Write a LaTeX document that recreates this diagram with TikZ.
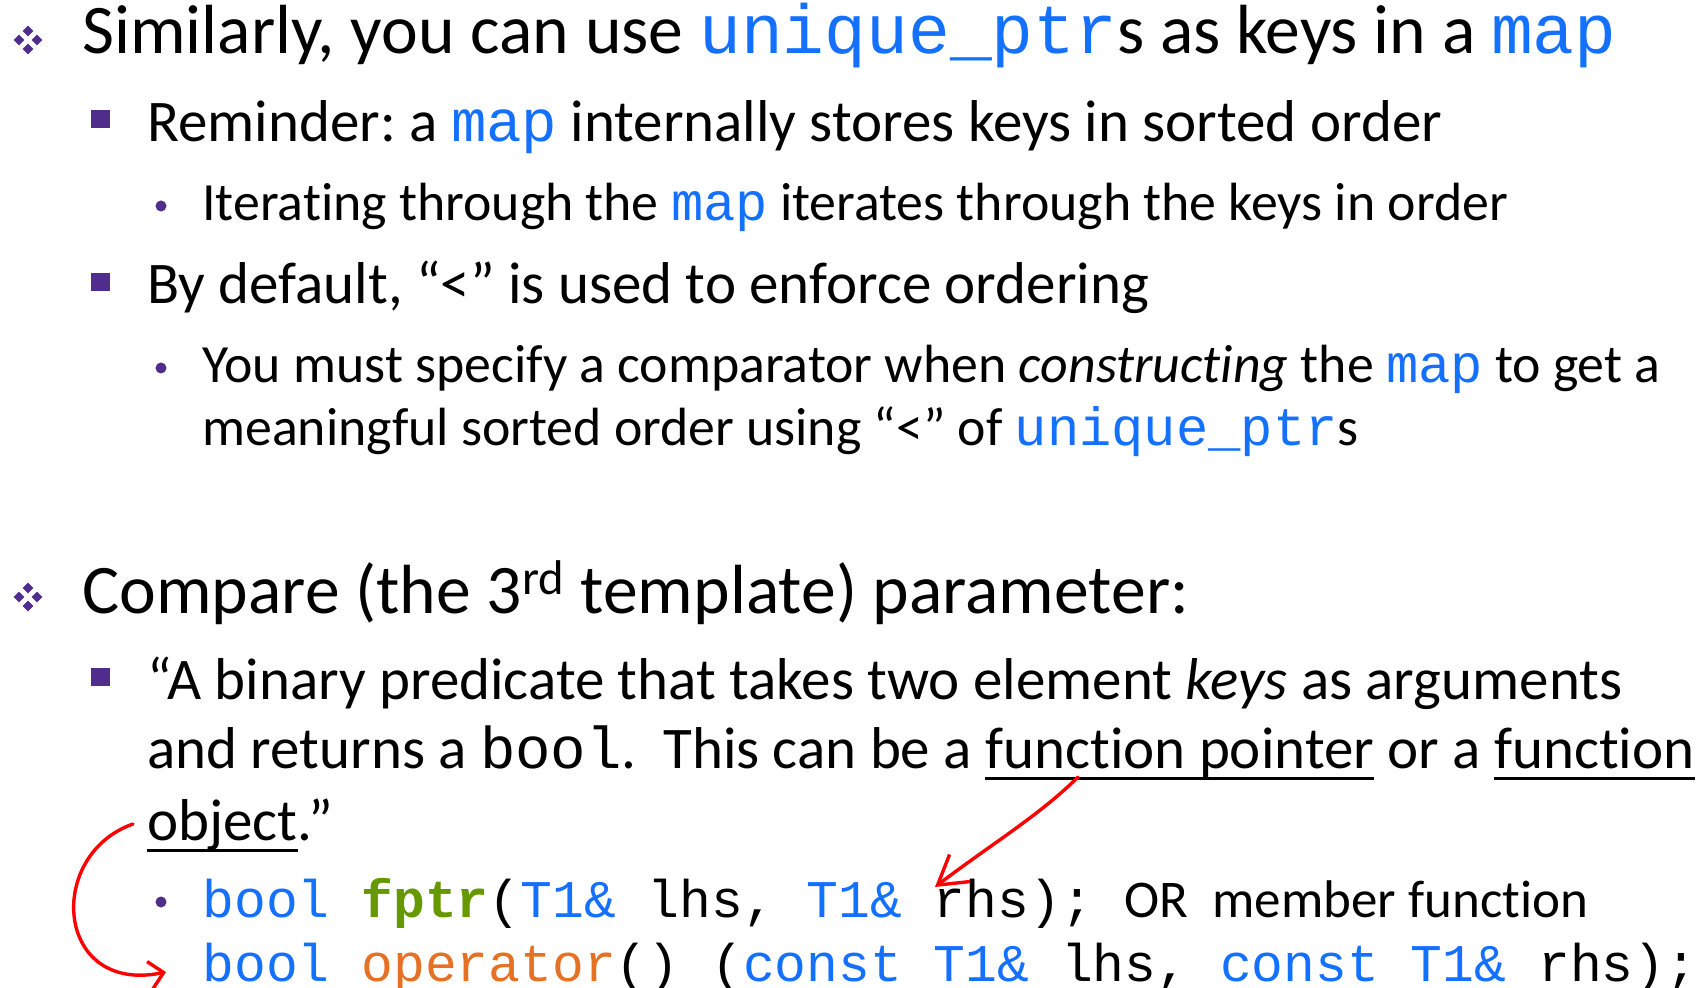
\documentclass[tikz,border=0pt]{standalone}
\usepackage{fontspec}
\setmainfont{Carlito}[Ligatures={NoCommon}]
\setmonofont{Liberation Mono}
\usepackage{xcolor}
\usetikzlibrary{arrows.meta}

\definecolor{codeblue}{RGB}{20,112,255}
\definecolor{fgreen}{RGB}{102,153,0}
\definecolor{oporange}{RGB}{230,112,35}
\definecolor{bulpurple}{RGB}{80,45,140}

\newcommand{\cd}[1]{{\ttfamily\color{codeblue}#1}}
\newsavebox{\undlbox}
\newcommand{\undl}[1]{\sbox{\undlbox}{#1}\rlap{\rule[-6.2pt]{\wd\undlbox}{1.8pt}}\usebox{\undlbox}}

\begin{document}\frenchspacing
\begin{tikzpicture}[
    x=0.5pt, y=-0.5pt,
    lvlone/.style={anchor=base west, inner sep=0pt, font=\fontsize{34.8}{40}\selectfont},
    lvltwo/.style={anchor=base west, inner sep=0pt, font=\fontsize{29.5}{34}\selectfont},
    lvlthree/.style={anchor=base west, inner sep=0pt, font=\fontsize{26.9}{31}\selectfont},
    lvlcode/.style={anchor=base west, inner sep=0pt, font=\fontsize{26.5}{31}\selectfont},
    bul/.style={fill=bulpurple},
    redarr/.style={red, line width=1.7pt, line cap=round, -{Straight Barb[length=14pt, width=17pt]}},
    redarrsmall/.style={red, line width=1.7pt, line cap=round, -{Straight Barb[length=7pt, width=14pt]}}
  ]
  \useasboundingbox (0,0) rectangle (1706,988);

  % first block
  \node[lvlone] (sim) at (82,54) {Similarly, you can use \cd{unique\_ptr}s as keys in a \cd{map}};
  \node[lvltwo] (rem) at (147,142) {Reminder: a \cd{map} internally stores keys in sorted order};
  \node[lvlthree] (iter) at (202,221) {Iterating through the \cd{map} iterates through the keys in order};
  \node[lvltwo] (dflt) at (147,304) {By default, “<” is used to enforce ordering};
  \node[lvlthree] (must) at (202,383) {You must specify a comparator when \emph{constructing} the \cd{map} to get a};
  \node[lvlthree] (mean) at (202,446) {meaningful sorted order using “<” of \cd{unique\_ptr}s};

  % second block
  \node[lvlone] (cmp) at (82,613) {Compare (the 3\textsuperscript{rd} template) parameter:};
  \node[lvltwo] (pred) at (147,699) {“A binary predicate that takes two element \emph{keys} as arguments};
  \node[lvltwo] (ret) at (147,768) {and returns a {\ttfamily bool}.\ \ This can be a \undl{function pointer} or a \undl{function}};
  \node[lvltwo] (obj) at (147,840) {\undl{object}.”};
  \node[lvlcode] (fptr) at (202,917) {{\ttfamily\textcolor{codeblue}{bool} \textcolor{fgreen}{\bfseries fptr}(\textcolor{codeblue}{T1\&} lhs, \textcolor{codeblue}{T1\&} rhs); }OR\ \ member function};
  \node[lvlcode] (oper) at (202,981) {{\ttfamily\textcolor{codeblue}{bool} \textcolor{oporange}{operator}() (\textcolor{codeblue}{const T1\&} lhs, \textcolor{codeblue}{const T1\&} rhs);}};

  % bullets
  \foreach \cy in {40,597}
    \foreach \dx/\dy in {0/-9,-9/0,9/0,0/9}
      \fill[bul] (28+\dx,\cy+\dy-5.5) -- ++(5.3,5.5) -- ++(-5.3,5.5) -- ++(-5.3,-5.5) -- cycle;
  \foreach \cy in {119,282,677}
    \fill[bul] (91,\cy-9) rectangle ++(19,18);
  \foreach \cy in {206,368,902}
    \fill[bul] (161,\cy) circle[radius=5.5];

  % hand drawn arrows
  \coordinate (fpfrom) at (1078,777);
  \coordinate (fpto) at (935,887);
  \coordinate (objfrom) at (133,824);
  \coordinate (objto) at (166,972);
  \draw[redarr] (fpfrom) .. controls (1040,815) and (990,845) .. (fpto);
  \draw[redarrsmall] (objfrom) .. controls (45,855) and (55,995) .. (objto);
\end{tikzpicture}
\end{document}
